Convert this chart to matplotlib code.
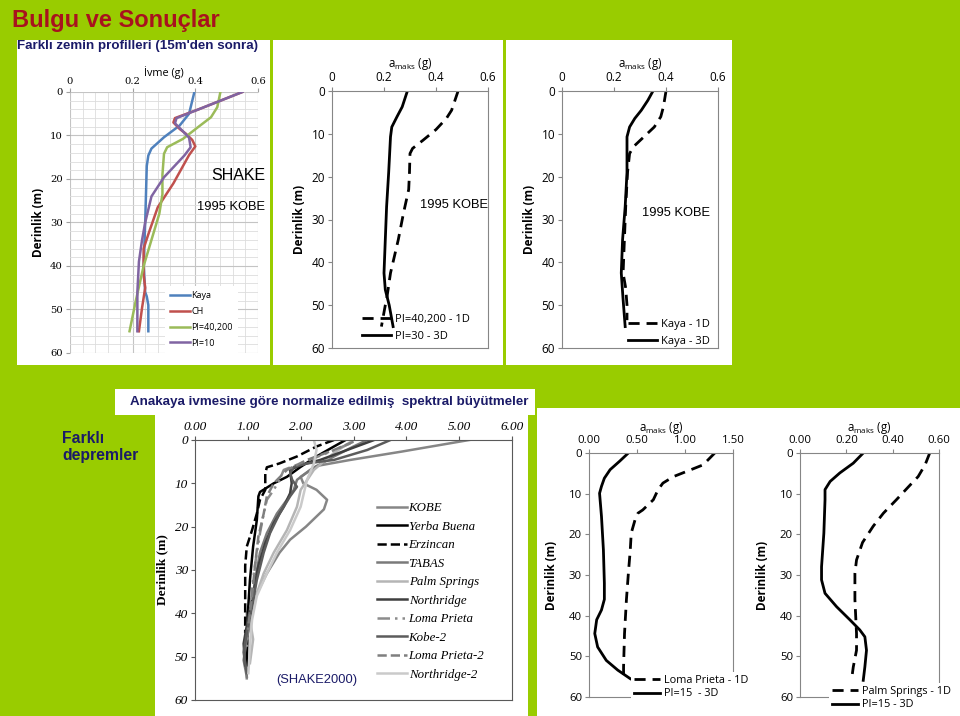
import matplotlib
matplotlib.use("Agg")
import matplotlib.pyplot as plt
from matplotlib.patches import Rectangle

W, H = 960, 716
GREEN = "#99CC00"
NAVY = "#1B1B68"
RED = "#A8121E"

# ---- panel 1: SHAKE, farkli zemin profilleri ----
shake_labels = ["Kaya", "CH", "PI=40,200", "PI=10"]
shake_colors = ["#4F81BD", "#C0504D", "#9BBB59", "#8064A2"]
kaya_d = [0, 5, 7.7, 10.4, 13, 14.6, 17, 30, 40, 46, 47, 49, 55]
kaya_v = [0.397, 0.38, 0.35, 0.30, 0.26, 0.25, 0.245, 0.24, 0.235, 0.24, 0.245, 0.25, 0.25]
ch_d = [0, 4, 6, 7, 8.5, 9.6, 11, 12.5, 14.5, 21, 26.5, 32.7, 36, 42, 45, 49.6, 55]
ch_v = [0.55, 0.41, 0.335, 0.33, 0.35, 0.37, 0.39, 0.40, 0.38, 0.33, 0.28, 0.25, 0.235, 0.235, 0.24, 0.23, 0.22]
pi40_d = [0, 3.5, 5.8, 8, 10.8, 12.7, 14.2, 19, 23.5, 28, 34, 40, 48, 55]
pi40_v = [0.48, 0.47, 0.45, 0.41, 0.36, 0.31, 0.30, 0.295, 0.295, 0.285, 0.26, 0.235, 0.21, 0.19]
pi10_d = [0, 4, 6, 7.2, 9, 10.5, 12.7, 14.6, 19.6, 24, 30, 34, 39, 46, 55]
pi10_v = [0.55, 0.41, 0.34, 0.335, 0.36, 0.38, 0.385, 0.365, 0.30, 0.26, 0.24, 0.23, 0.22, 0.215, 0.215]

# ---- panel 2: PI=40,200 1D vs PI=30 3D ----
p2_1d_d = [0, 4.5, 6.4, 9, 11.5, 13.4, 14.6, 19, 23, 28.5, 34.7, 42.5, 48.7, 50, 55]
p2_1d_v = [0.485, 0.46, 0.44, 0.40, 0.35, 0.31, 0.30, 0.298, 0.295, 0.275, 0.255, 0.225, 0.21, 0.205, 0.19]
p2_3d_d = [0, 3.7, 6, 8.4, 10.7, 19, 27, 34.7, 42.5, 46.4, 50, 55]
p2_3d_v = [0.29, 0.27, 0.25, 0.23, 0.225, 0.218, 0.21, 0.205, 0.20, 0.205, 0.22, 0.235]

# ---- panel 3: Kaya 1D vs 3D ----
p3_1d_d = [0, 3.7, 6, 8.4, 10.7, 13, 14.6, 19, 27, 34.7, 42.5, 46, 50, 53.5]
p3_1d_v = [0.40, 0.39, 0.38, 0.355, 0.315, 0.275, 0.26, 0.252, 0.245, 0.24, 0.235, 0.245, 0.25, 0.25]
p3_3d_d = [0, 2.2, 4.5, 6.4, 8.4, 10.7, 19, 27, 34.7, 42.5, 48.7, 55]
p3_3d_v = [0.35, 0.33, 0.305, 0.28, 0.26, 0.25, 0.25, 0.243, 0.233, 0.228, 0.235, 0.243]

# ---- panel 4: normalize spektral buyutmeler (SHAKE2000) ----
eq_labels = ["KOBE", "Yerba Buena", "Erzincan", "TABAS", "Palm Springs", "Northridge",
             "Loma Prieta", "Kobe-2", "Loma Prieta-2", "Northridge-2"]
eq_colors = ["#868686", "#000000", "#000000", "#7A7A7A", "#B5B5B5", "#3F3F3F",
             "#8C8C8C", "#5C5C5C", "#7F7F7F", "#CACACA"]
eq_styles = ["-", "-", "--", "-", "-", "-", (0, (5, 2, 1, 2, 1, 2)), "-", "--", "-"]
eq_depths = [
    [0, 2.7, 4.6, 6, 8.5, 10, 11.5, 13.8, 16, 20, 23, 26, 30.8, 35.4, 40, 43.8, 47.7, 52.3, 55],
    [0, 1.5, 3.8, 6.2, 8.5, 10, 12, 13, 18.5, 24.6, 32.3, 40, 47.7, 52],
    [0, 1.5, 3.8, 5.4, 6.3, 7.7, 11.5, 13.8, 17, 20.8, 24.6, 29, 36, 44.6],
    [0, 1.5, 3.8, 6.9, 9.2, 11.5, 13.8, 17, 21.5, 26, 32.3, 40, 46, 50.8, 54.6],
    [0, 3, 6.9, 11.5, 15.4, 20.8, 26, 30.8, 35.4, 41.5, 46, 51.5],
    [0, 2.3, 4.6, 5.8, 6.9, 10, 12.3, 15.4, 19.2, 23.8, 29, 35.4, 41.5, 47, 52],
    [0.8, 3, 5.4, 6.9, 9.2, 11.5, 13.8, 17, 21.5, 26, 32, 40, 47.7],
    [0, 2.3, 4.6, 5.4, 6.2, 7.7, 9.2, 10.8, 13, 17, 21.5, 26, 32.3, 38.5, 44.6, 49, 53.8],
    [0.4, 2.3, 4.6, 6.9, 10, 13, 17, 22.3, 28.5, 36, 43.8],
    [0, 2.3, 5.4, 9.2, 15.4, 20.8, 26, 30.8, 36, 41.5, 47.7, 53.8],
]
eq_values = [
    [5.19, 3.9, 2.94, 2.3, 2.0, 2.05, 2.3, 2.5, 2.44, 2.1, 1.8, 1.6, 1.36, 1.17, 0.98, 1.0, 1.0, 0.98, 0.98],
    [2.85, 2.63, 2.3, 2.0, 1.74, 1.49, 1.23, 1.2, 1.17, 1.1, 1.04, 1.0, 0.98, 0.98],
    [2.63, 2.3, 1.93, 1.6, 1.36, 1.33, 1.33, 1.23, 1.17, 1.08, 0.98, 0.95, 0.95, 0.95],
    [3.26, 3.0, 2.63, 2.18, 1.93, 1.87, 1.74, 1.55, 1.36, 1.23, 1.14, 1.08, 0.98, 0.92, 0.98],
    [3.0, 2.63, 2.25, 2.0, 1.93, 1.74, 1.49, 1.3, 1.17, 1.04, 1.1, 1.04],
    [3.39, 2.88, 2.37, 2.0, 1.8, 1.83, 1.8, 1.68, 1.49, 1.33, 1.2, 1.1, 1.0, 0.92, 0.95],
    [2.94, 2.5, 2.0, 1.68, 1.6, 1.49, 1.36, 1.3, 1.23, 1.17, 1.1, 1.04, 0.98],
    [3.7, 3.26, 2.63, 2.12, 1.87, 1.8, 1.84, 1.93, 1.8, 1.6, 1.42, 1.3, 1.17, 1.08, 0.98, 0.92, 0.98],
    [3.0, 2.63, 2.12, 1.74, 1.49, 1.36, 1.3, 1.2, 1.14, 1.08, 1.0],
    [2.25, 2.3, 2.25, 2.12, 2.0, 1.8, 1.55, 1.36, 1.17, 1.08, 1.04, 1.01],
]

# ---- panel 5: Loma Prieta 1D vs PI=15 3D ----
p5_1d_d = [0, 2.9, 4.5, 5.8, 7.4, 9, 11.5, 14, 14.8, 16.4, 19.7, 23.8, 29.6, 36, 44.4, 52.6, 55]
p5_1d_v = [1.31, 1.19, 1.02, 0.88, 0.77, 0.72, 0.67, 0.56, 0.51, 0.48, 0.44, 0.43, 0.41, 0.39, 0.37, 0.36, 0.36]
p5_3d_d = [0, 2, 4.1, 6.2, 8.2, 9.9, 15.6, 23.8, 32, 36, 38.6, 41, 44.4, 47.7, 51, 53.4, 55.5]
p5_3d_v = [0.41, 0.32, 0.22, 0.16, 0.13, 0.11, 0.13, 0.15, 0.16, 0.16, 0.13, 0.08, 0.06, 0.09, 0.18, 0.30, 0.43]

# ---- panel 6: Palm Springs 1D vs PI=15 3D ----
p6_1d_d = [0, 2.9, 5.8, 8.2, 11.5, 14.8, 18, 22, 26.3, 29.6, 36, 44.4, 48.5, 52.6, 56]
p6_1d_v = [0.56, 0.54, 0.51, 0.47, 0.416, 0.36, 0.316, 0.27, 0.244, 0.237, 0.237, 0.244, 0.244, 0.23, 0.222]
p6_3d_d = [0, 2.5, 4.9, 7, 9, 11.5, 19.7, 28, 31.2, 34.5, 37.8, 41, 43.5, 45.2, 48.5, 52.6, 55.9]
p6_3d_v = [0.273, 0.23, 0.172, 0.13, 0.108, 0.108, 0.103, 0.093, 0.093, 0.108, 0.158, 0.215, 0.258, 0.28, 0.287, 0.28, 0.273]


def fbox(x0, y0, x1, y1):
    return [x0 / W, 1 - y1 / H, (x1 - x0) / W, (y1 - y0) / H]


def ftext(x, y, s, **kw):
    fig.text(x / W, 1 - y / H, s, **kw)


def white(x0, y0, x1, y1):
    fig.add_artist(Rectangle((x0 / W, 1 - y1 / H), (x1 - x0) / W, (y1 - y0) / H,
                             transform=fig.transFigure, facecolor="white",
                             edgecolor="none", zorder=0))


def depth_axes(box, xmax, xticks, xfmt, fam, size, italic=False, edge="#868686"):
    ax = fig.add_axes(fbox(*box))
    ax.set_facecolor("none")
    ax.set_xlim(0, xmax)
    ax.set_ylim(60, 0)
    ax.xaxis.tick_top()
    ax.xaxis.set_label_position("top")
    ax.set_xticks(xticks)
    ax.set_xticklabels([xfmt.format(t) for t in xticks])
    ax.set_yticks([0, 10, 20, 30, 40, 50, 60])
    style = "italic" if italic else "normal"
    for lab in ax.get_xticklabels() + ax.get_yticklabels():
        lab.set_family(fam)
        lab.set_fontsize(size)
        lab.set_style(style)
    ax.tick_params(direction="out", length=3, width=0.8, color=edge, pad=2)
    for sp in ax.spines.values():
        sp.set_color(edge)
        sp.set_linewidth(0.8)
    return ax


def white_legend(lg, fam):
    lg.get_frame().set_facecolor("white")
    lg.get_frame().set_edgecolor("none")
    lg.get_frame().set_alpha(1)
    for t in lg.get_texts():
        t.set_family(fam)


fig = plt.figure(figsize=(W / 100, H / 100), dpi=100, facecolor=GREEN)

# white panels
white(17, 40, 270, 365)
white(273, 40, 503, 365)
white(506, 40, 732, 365)
white(115, 389, 535, 415)
white(155, 405, 528, 716)
white(537, 408, 960, 716)

ftext(12, 20, "Bulgu ve Sonuçlar", color=RED, fontsize=17, fontweight="bold",
      family="Liberation Sans", va="center")
ftext(17, 46, "Farklı zemin profilleri (15m'den sonra)", color=NAVY, fontsize=9.6,
      fontweight="bold", family="Liberation Sans", va="center")
ftext(329, 402, "Anakaya ivmesine göre normalize edilmiş  spektral büyütmeler", color=NAVY,
      fontsize=9.6, fontweight="bold", family="Liberation Sans", va="center", ha="center")
ftext(62, 447, "Farklı\ndepremler", color=NAVY, fontsize=11.3, fontweight="bold",
      family="Liberation Sans", va="center", linespacing=1.15)

# ---- panel 1 ----
ax1 = depth_axes((70, 92, 258, 353), 0.6, [0, 0.2, 0.4, 0.6], "{:g}", "DejaVu Serif", 7.2,
                 edge="#A0A0A0")
ax1.set_xticks([i * 0.04 for i in range(16)], minor=True)
ax1.set_yticks(list(range(0, 61, 2)), minor=True)
ax1.grid(which="major", color="#C4C4C4", lw=0.8)
ax1.grid(which="minor", color="#DDDDDD", lw=0.6)
ax1.tick_params(which="minor", length=0)
ax1.tick_params(axis="x", pad=1)
for sp in ax1.spines.values():
    sp.set_visible(False)
ax1.set_axisbelow(True)
for d, v, c, lab in zip([kaya_d, ch_d, pi40_d, pi10_d], [kaya_v, ch_v, pi40_v, pi10_v],
                        shake_colors, shake_labels):
    ax1.plot(v, d, color=c, lw=1.8, label=lab, solid_joinstyle="round")
ax1.set_xlabel("İvme (g)", family="Open Sans", fontsize=7.8, labelpad=1)
ax1.set_ylabel("Derinlik (m)", family="Open Sans", fontsize=8.5, fontweight="bold", labelpad=4)
leg = ax1.legend(loc="lower left", bbox_to_anchor=(165 / W, 1 - 353 / H),
                 bbox_transform=fig.transFigure, fontsize=6.5, frameon=True,
                 handlelength=2.2, handletextpad=0.1, labelspacing=0.75, borderpad=0.6,
                 borderaxespad=0, fancybox=False)
white_legend(leg, "Open Sans")
ax1.text(0.622, 19.1, "SHAKE", fontsize=11.5, family="Liberation Sans", ha="right",
         va="center", clip_on=False)
ax1.text(0.622, 26.4, "1995 KOBE", fontsize=9.3, family="Liberation Sans", ha="right",
         va="center", clip_on=False)

# ---- panel 2 & 3 ----
panels = [
    ((332, 91, 488, 348), p2_1d_v, p2_1d_d, p2_3d_v, p2_3d_d,
     ["PI=40,200 - 1D", "PI=30 - 3D"], (362, 342), (0.6, 26.6)),
    ((562, 91, 718, 348), p3_1d_v, p3_1d_d, p3_3d_v, p3_3d_d,
     ["Kaya - 1D", "Kaya - 3D"], (628, 347), (0.569, 28.5)),
]
for box, v1, d1, v3, d3, labs, lpos, tpos in panels:
    ax = depth_axes(box, 0.6, [0, 0.2, 0.4, 0.6], "{:g}", "Open Sans", 8.5)
    ax.plot(v1, d1, color="black", lw=2, ls=(0, (4, 2.5)), label=labs[0])
    ax.plot(v3, d3, color="black", lw=2, label=labs[1])
    ax.set_xlabel("a$_{\\mathregular{maks}}$ (g)", family="Open Sans", fontsize=8.3, labelpad=3)
    ax.set_ylabel("Derinlik (m)", family="Open Sans", fontsize=8.5, fontweight="bold",
                  labelpad=4)
    lg = ax.legend(loc="lower left", bbox_to_anchor=(lpos[0] / W, 1 - lpos[1] / H),
                   bbox_transform=fig.transFigure, frameon=False, fontsize=8,
                   handlelength=2.6, handletextpad=0.35, labelspacing=0.55, borderpad=0,
                   borderaxespad=0)
    for t in lg.get_texts():
        t.set_family("Open Sans")
    ax.text(tpos[0], tpos[1], "1995 KOBE", fontsize=9.3, family="Liberation Sans",
            ha="right", va="center")

# ---- panel 4 ----
ax4 = depth_axes((195, 440, 512, 700), 6, [0, 1, 2, 3, 4, 5, 6], "{:.2f}", "Liberation Serif",
                 9.5, italic=True, edge="#595959")
for d, v, c, s, lab in zip(eq_depths, eq_values, eq_colors, eq_styles, eq_labels):
    ax4.plot(v, d, color=c, ls=s, lw=1.8, label=lab)
ax4.set_ylabel("Derinlik (m)", family="Liberation Serif", fontsize=9.5, fontweight="bold",
               labelpad=5)
lg4 = ax4.legend(loc="upper left", bbox_to_anchor=(377 / W, 1 - 502 / H),
                 bbox_transform=fig.transFigure, frameon=False, fontsize=9.3,
                 handlelength=2.3, handletextpad=0.15, labelspacing=0.5, borderpad=0,
                 borderaxespad=0)
for t in lg4.get_texts():
    t.set_family("Liberation Serif")
    t.set_style("italic")
ax4.text(2.31, 55.4, "(SHAKE2000)", color=NAVY, fontsize=9.3, family="Liberation Sans",
         ha="center", va="center")

# ---- panel 5 & 6 ----
bottom = [
    ((589, 453, 733, 697), 1.5, [0, 0.5, 1.0, 1.5], p5_1d_v, p5_1d_d, p5_3d_v, p5_3d_d,
     ["Loma Prieta - 1D", "PI=15  - 3D"], (631, 702)),
    ((800, 453, 939, 697), 0.6, [0, 0.2, 0.4, 0.6], p6_1d_v, p6_1d_d, p6_3d_v, p6_3d_d,
     ["Palm Springs - 1D", "PI=15 - 3D"], (829, 713)),
]
for box, xmax, xt, v1, d1, v3, d3, labs, lpos in bottom:
    ax = depth_axes(box, xmax, xt, "{:.2f}", "Open Sans", 8.2)
    ax.plot(v1, d1, color="black", lw=2, ls=(0, (4, 2.5)), label=labs[0])
    ax.plot(v3, d3, color="black", lw=2, label=labs[1])
    ax.set_xlabel("a$_{\\mathregular{maks}}$ (g)", family="Open Sans", fontsize=8.3, labelpad=3)
    ax.set_ylabel("Derinlik (m)", family="Open Sans", fontsize=8.5, fontweight="bold",
                  labelpad=8)
    lg = ax.legend(loc="lower left", bbox_to_anchor=(lpos[0] / W, 1 - lpos[1] / H),
                   bbox_transform=fig.transFigure, frameon=True, fontsize=7.8,
                   handlelength=2.4, handletextpad=0.35, labelspacing=0.25, borderpad=0.25,
                   borderaxespad=0, fancybox=False)
    white_legend(lg, "Open Sans")

fig.savefig("out.png", dpi=100, facecolor=GREEN)
